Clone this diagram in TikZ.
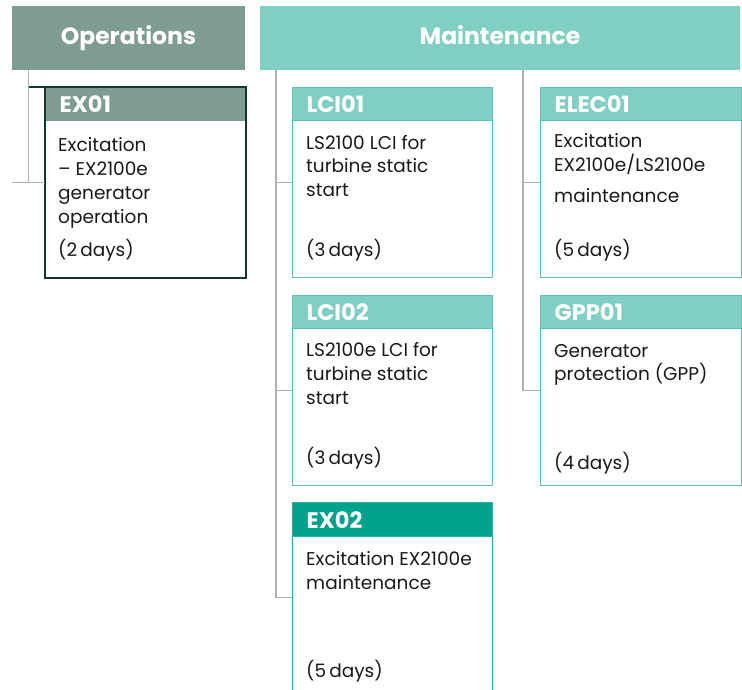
\documentclass[tikz,border=0pt]{standalone}
\usepackage{fontspec}
\setmainfont{Poppins}
\usetikzlibrary{calc}
\definecolor{opsgreen}{HTML}{7F9C91}
\definecolor{mainteal}{HTML}{7FCFC3}
\definecolor{exteal}{HTML}{00A28E}
\definecolor{cardborder}{HTML}{5CC2B1}
\definecolor{exborder}{HTML}{2EAD9C}
\definecolor{darkgreen}{HTML}{12362A}
\definecolor{connline}{HTML}{B0B0B0}
\definecolor{bodytext}{HTML}{1A1A1A}
\begin{document}
\begin{tikzpicture}[x=1pt,y=-1pt,
  head/.style={minimum height=64pt, inner sep=0pt, text=white,
    font=\bfseries\fontsize{23.5}{28}\selectfont, text height=14pt, text depth=0pt},
  card/.style={draw=cardborder, line width=1.2pt, fill=white, minimum width=200pt,
    minimum height=190pt, anchor=north west, inner sep=0pt},
  cardhead/.style={draw=cardborder, line width=1.2pt, fill=mainteal, anchor=north west,
    minimum width=200pt, minimum height=33pt, inner xsep=14pt, inner ysep=0pt,
    text width=172pt, align=left, text height=17.5pt, text depth=0pt, text=white,
    font=\bfseries\fontsize{22.5}{26}\selectfont},
  ln/.style={anchor=base west, inner sep=0pt, text=bodytext, font=\fontsize{18.5}{24}\selectfont},
  conn/.style={draw=connline, line width=1.2pt}
]
\useasboundingbox (0,0) rectangle (742,690);

% column headers
\node[head, fill=opsgreen, minimum width=233pt] (ops) at (128.5,38) {Operations};
\node[head, fill=mainteal, minimum width=480pt] (maint) at (500,38) {Maintenance};

% EX01 (operations)
\node[card, draw=none] (ex01) at (45,87) {};
\node[cardhead, draw=none, fill=opsgreen] (ex01h) at (45,87) {EX01};
\draw[darkgreen, line width=2pt] (ex01.north west) rectangle (ex01.south east);
\draw[darkgreen, line width=2pt] ([xshift=-17pt]ex01.north west) -- (ex01.north west);
\node[ln] (ex01a) at (58,151.5) {Excitation};
\node[ln] (ex01b) at (58,175.5) {– EX2100e};
\node[ln] (ex01c) at (58,199.5) {generator};
\node[ln] (ex01d) at (58,223) {operation};
\node[ln] (ex01e) at (58,256) {(2\,days)};

% LCI01
\node[card] (lci01) at (292,87) {};
\node[cardhead] (lci01h) at (292,87) {LCI01};
\node[ln] (lci01a) at (306,149.5) {LS2100 LCI for};
\node[ln] (lci01b) at (306,173) {turbine static};
\node[ln] (lci01c) at (306,196.5) {start};
\node[ln] (lci01d) at (306,256.5) {(3\,days)};

% LCI02
\node[card] (lci02) at (292,295) {};
\node[cardhead] (lci02h) at (292,295) {LCI02};
\node[ln] (lci02a) at (306,356.5) {LS2100e LCI for};
\node[ln] (lci02b) at (306,380.5) {turbine static};
\node[ln] (lci02c) at (306,404.5) {start};
\node[ln] (lci02d) at (306,464.5) {(3\,days)};

% EX02
\node[card, draw=exborder] (ex02) at (292,502) {};
\node[cardhead, draw=exborder, fill=exteal, minimum height=34pt] (ex02h) at (292,502) {EX02};
\node[ln] (ex02a) at (306,565) {Excitation EX2100e};
\node[ln] (ex02b) at (306,589) {maintenance};
\node[ln] (ex02c) at (306,677.5) {(5\,days)};

% ELEC01
\node[card, minimum width=201pt] (elec01) at (540,87) {};
\node[cardhead, minimum width=201pt, text width=173pt] (elec01h) at (540,87) {ELEC01};
\node[ln] (elec01a) at (554,148) {Excitation};
\node[ln] (elec01b) at (554,171.5) {EX2100e/LS2100e};
\node[ln] (elec01c) at (554,202) {maintenance};
\node[ln] (elec01d) at (554,256.5) {(5\,days)};

% GPP01
\node[card, minimum width=201pt] (gpp01) at (540,295) {};
\node[cardhead, minimum width=201pt, text width=173pt] (gpp01h) at (540,295) {GPP01};
\node[ln] (gpp01a) at (554,357) {Generator};
\node[ln] (gpp01b) at (554,380.5) {protection (GPP)};
\node[ln] (gpp01c) at (554,469) {(4\,days)};

% connectors
\coordinate (opsv) at ([xshift=17pt]ops.south west);
\draw[conn] (opsv) -- (opsv |- ex01.west);
\draw[conn] (ops.south west |- ex01.west) -- (ex01.west);

\coordinate (mlv) at ([xshift=-16pt]lci01.west);
\draw[conn] (maint.south -| mlv) |- (ex02.west);
\draw[conn] (mlv) -- (lci01.west);
\draw[conn] (mlv |- lci02.west) -- (lci02.west);

\coordinate (mrv) at ([xshift=-17pt]elec01.west);
\draw[conn] (maint.south -| mrv) |- (gpp01.west);
\draw[conn] (mrv) -- (elec01.west);
\end{tikzpicture}
\end{document}
